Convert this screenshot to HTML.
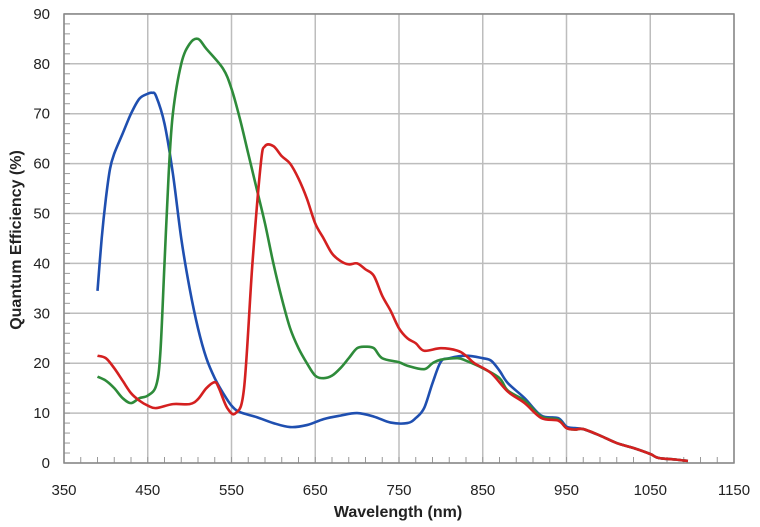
<!DOCTYPE html>
<html><head><meta charset="utf-8"><style>
body{margin:0;background:#fff;}
svg{display:block;font-family:"Liberation Sans",sans-serif;}
</style></head><body>
<svg id="s" width="760" height="527" xmlns="http://www.w3.org/2000/svg"></svg>
<script>
const s=document.getElementById('s');
const X=n=>64+(n-350)*0.8375, Y=v=>463-v*4.99;
let h='';
for(let n=350;n<=1150;n+=100){h+=`<line x1="${X(n)}" y1="14" x2="${X(n)}" y2="463" stroke="#bdbdbd" stroke-width="1.5"/>`;
h+=`<text x="${X(n)}" y="495" font-size="15" text-anchor="middle" fill="#222">${n}</text>`;}
for(let v=0;v<=90;v+=10){h+=`<line x1="64" y1="${Y(v)}" x2="734" y2="${Y(v)}" stroke="#bdbdbd" stroke-width="1.5"/>`;
h+=`<text x="50" y="${Y(v)+5}" font-size="15" text-anchor="end" fill="#222">${v}</text>`;}
for(let v=0;v<=90;v+=2)h+=`<line x1="64" y1="${Y(v)}" x2="70" y2="${Y(v)}" stroke="#999"/>`;
for(let n=350;n<=1150;n+=20)h+=`<line x1="${X(n)}" y1="463" x2="${X(n)}" y2="457" stroke="#999"/>`;
h+=`<rect x="64" y="14" width="670" height="449" fill="none" stroke="#888" stroke-width="1.5"/>`;
h+=`<text x="398" y="517" font-size="16" font-weight="bold" text-anchor="middle" fill="#222">Wavelength (nm)</text>`;
h+=`<text transform="translate(21,240) rotate(-90)" font-size="16" font-weight="bold" text-anchor="middle" fill="#222">Quantum Efficiency (%)</text>`;
function path(pts,c){pts=pts.map(p=>[X(p[0]),Y(p[1])]);let d=`M${pts[0][0]},${pts[0][1]}`;
for(let i=0;i<pts.length-1;i++){const p0=pts[i-1]||pts[i],p1=pts[i],p2=pts[i+1],p3=pts[i+2]||p2;
d+=`C${p1[0]+(p2[0]-p0[0])/6},${p1[1]+(p2[1]-p0[1])/6} ${p2[0]-(p3[0]-p1[0])/6},${p2[1]-(p3[1]-p1[1])/6} ${p2[0]},${p2[1]}`;}
return `<path d="${d}" fill="none" stroke="${c}" stroke-width="2.6" stroke-linejoin="round"/>`;}
const tail=[[990,5.5],[1010,4],[1030,3],[1050,1.8],[1060,1],[1080,0.7],[1095,0.4]];
const blue=[[390,34.5],[395,45],[400,53],[405,59],[410,62],[420,66],[430,70],[440,73],[450,74],[455,74.2],[460,73.5],[470,68],[480,58],[490,45],[500,35],[510,27],[520,21],[530,17],[540,14],[550,11.5],[560,10.2],[580,9.2],[600,8],[620,7.2],[640,7.6],[660,8.8],[680,9.5],[700,10],[720,9.3],[740,8.1],[760,8],[770,9],[780,11],[790,16],[800,20.3],[810,21],[830,21.5],[850,21],[860,20.5],[870,18.5],[880,16],[900,13],[920,9.5],[940,9],[950,7.3],[960,7],[970,6.8],...tail];
const green=[[390,17.3],[400,16.5],[410,15],[420,13],[430,12],[440,13],[450,13.5],[460,15.5],[465,22],[470,40],[475,58],[480,70],[490,80],[500,84],[510,85],[520,83],[540,79],[550,75],[560,69],[570,62],[580,55],[590,48],[600,40],[610,33],[620,27],[630,23],[640,20],[650,17.5],[660,17],[670,17.5],[680,19],[690,21],[700,23],[710,23.3],[720,23],[730,21],[750,20.2],[760,19.5],[780,18.8],[790,20],[800,20.7],[820,21],[830,20.5],[850,19],[870,17],[880,14.5],[900,12.5],[920,9.3],[940,8.7],[950,7],[960,6.7],[970,6.8],...tail];
const red=[[390,21.5],[400,21],[410,19],[420,16.5],[430,14],[440,12.5],[450,11.5],[460,11],[480,11.8],[500,11.8],[510,12.8],[520,15],[530,16.2],[535,15],[545,11],[555,10],[565,15],[575,40],[585,60],[590,63.5],[600,63.5],[610,61.5],[620,60],[630,57],[640,53],[650,48],[660,45],[670,42],[680,40.5],[690,39.8],[700,40],[710,38.8],[720,37.5],[730,33.5],[740,30.5],[750,27],[760,25],[770,24],[780,22.5],[800,23],[820,22.5],[830,21.5],[840,20],[860,18],[880,14.3],[900,12],[920,9],[940,8.5],[950,7],[960,6.7],[970,6.8],...tail];
h+=path(blue,'#1f4fb0')+path(green,'#2e8b3a')+path(red,'#d42020');
s.innerHTML=h;
</script>
</body></html>
